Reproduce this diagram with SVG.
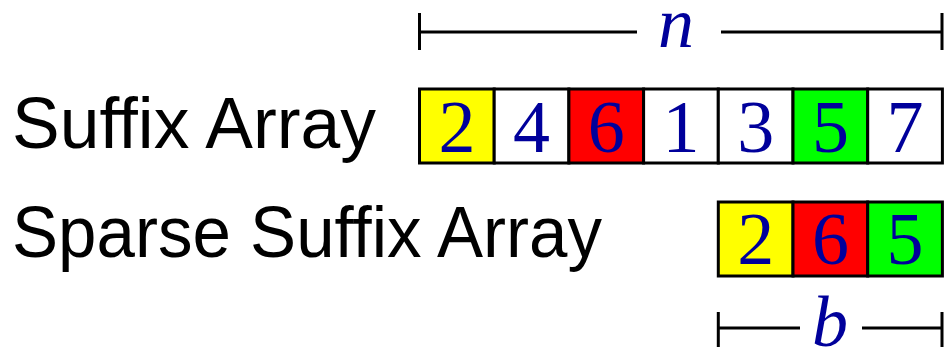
<svg xmlns="http://www.w3.org/2000/svg" width="948" height="353" viewBox="0 0 948 353">
<style>
.cell{stroke:#000;stroke-width:3}
.num{font-family:"Liberation Serif","DejaVu Serif",serif;font-size:74px;fill:#00009b;text-anchor:middle}
.var{font-family:"Liberation Serif","DejaVu Serif",serif;font-style:italic;font-size:72px;fill:#00009b;text-anchor:middle}
.lbl{font-family:"Liberation Sans","DejaVu Sans",sans-serif;font-size:72px;fill:#000}
.dim{stroke:#000;stroke-width:3;fill:none}
</style>
<rect width="948" height="353" fill="#fff"/>
<g id="label-sa"><text class="lbl" x="12" y="148" textLength="364" lengthAdjust="spacingAndGlyphs">Suffix Array</text></g>
<g id="label-ssa"><text class="lbl" x="12" y="257" textLength="590" lengthAdjust="spacingAndGlyphs">Sparse Suffix Array</text></g>
<g id="sa">
<rect class="cell" x="419.5" y="89" width="74.7" height="74" fill="#ffff00"/>
<rect class="cell" x="494.2" y="89" width="74.7" height="74" fill="#fff"/>
<rect class="cell" x="568.9" y="89" width="74.7" height="74" fill="#ff0000"/>
<rect class="cell" x="643.6" y="89" width="74.7" height="74" fill="#fff"/>
<rect class="cell" x="718.3" y="89" width="74.7" height="74" fill="#fff"/>
<rect class="cell" x="793" y="89" width="74.7" height="74" fill="#00ff00"/>
<rect class="cell" x="867.7" y="89" width="74.7" height="74" fill="#fff"/>
<text class="num" x="456.9" y="152">2</text>
<text class="num" x="531.6" y="152">4</text>
<text class="num" x="606.3" y="152">6</text>
<text class="num" x="681" y="152">1</text>
<text class="num" x="755.7" y="152">3</text>
<text class="num" x="830.4" y="152">5</text>
<text class="num" x="905" y="152">7</text>
</g>
<g id="ssa">
<rect class="cell" x="718.3" y="202" width="74.7" height="74" fill="#ffff00"/>
<rect class="cell" x="793" y="202" width="74.7" height="74" fill="#ff0000"/>
<rect class="cell" x="867.7" y="202" width="74.7" height="74" fill="#00ff00"/>
<text class="num" x="755.7" y="264">2</text>
<text class="num" x="830.4" y="264">6</text>
<text class="num" x="905" y="264">5</text>
</g>
<g id="connectors">
<path class="dim" d="M419.5 13V50M419.5 32H637M721 32H942M942 13V50"/>
<path class="dim" d="M718.3 312V347M718.3 328H800M862 328H942M942 312V347"/>
</g>
<g id="label-n"><text class="var" x="676" y="47">n</text></g>
<g id="label-b"><text class="var" x="830" y="346">b</text></g>
</svg>
